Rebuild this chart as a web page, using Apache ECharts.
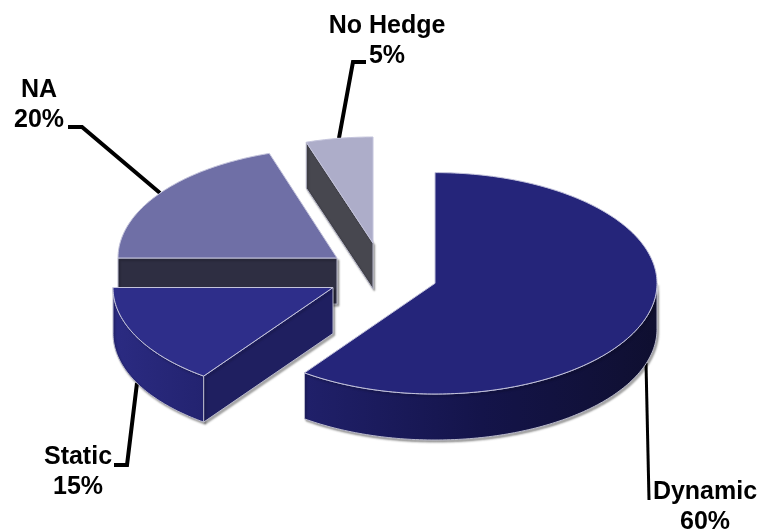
<!DOCTYPE html>
<html>
<head>
<meta charset="utf-8">
<style>html,body{margin:0;padding:0;background:#fff}#chart{width:760px;height:532px}</style>
<script src="https://cdn.jsdelivr.net/npm/echarts@6/dist/echarts.min.js"></script>
</head>
<body>
<div id="chart"></div>
<script>
// Hedging approach shares, listed counter-clockwise from 12 o'clock so that
// slices further back are painted first.
const categories = ['No Hedge', 'NA', 'Static', 'Dynamic'];
const shares = [5, 20, 15, 60];

// Exploded position and ellipse size of each slice.
const centers = [[373, 243], [337, 258], [333, 287.5], [435, 283.3]];
const radiiX = [216, 219, 220, 222];
const radiiY = [106, 110, 109.5, 110.7];
const depth = 46;

const topColors = ['#adadc9', '#6f6fa6', '#2e2e8a', '#25257a'];
const cutColors = ['#47474f', '#2e2e42', '#1f1f60', '#1f1f60'];
const wallStops = [
  ['#47474f', '#47474f'],
  ['#2e2e42', '#2e2e42'],
  ['#2b2b82', '#232370'],
  ['#20206a', '#14144a', '#0f0f30']
];

// Callout placement: text centre and leader line.
const labelCenters = [[387, 41], [39, 105], [78, 472], [705, 507]];
const leaders = [
  [[366, 62], [353, 62], [339, 138]],
  [[68, 127], [82, 127], [160, 193]],
  [[114, 465], [127, 465], [137, 383]],
  [[646, 363], [649, 500]]
];
const leaderWidths = [4, 4, 4, 3];

const total = shares.reduce((a, b) => a + b, 0);
const rad = d => d * Math.PI / 180;

// Clockwise angle from 12 o'clock at which slice i ends.
function endAngle(i) {
  return 360 - shares.slice(0, i).reduce((a, b) => a + b, 0) / total * 360;
}

function rimPoint(i, deg, drop) {
  return [
    centers[i][0] + radiiX[i] * Math.sin(rad(deg)),
    centers[i][1] - radiiY[i] * Math.cos(rad(deg)) + (drop || 0)
  ];
}

function arc(i, from, to, drop) {
  const pts = [];
  const n = Math.max(2, Math.ceil(Math.abs(to - from)));
  for (let k = 0; k <= n; k++) pts.push(rimPoint(i, from + (to - from) * k / n, drop));
  return pts;
}

function hGradient(stops) {
  return {
    type: 'linear', x: 0, y: 0, x2: 1, y2: 0,
    colorStops: stops.map((c, k) => ({ offset: k / (stops.length - 1), color: c }))
  };
}

const edgeStyle = {
  stroke: '#b9b9cc', lineWidth: 1,
  shadowColor: 'rgba(0,0,0,0.35)', shadowBlur: 2, shadowOffsetX: 1.5, shadowOffsetY: 2
};

function renderSlice(params, api) {
  const i = params.dataIndex;
  const value = api.value(0);
  const end = endAngle(i);
  const start = end - value / total * 360;
  const c = centers[i];
  const children = [];

  // Leader and callout sit behind the solid.
  children.push({
    type: 'polyline', silent: true,
    shape: { points: leaders[i] },
    style: { stroke: '#000', lineWidth: leaderWidths[i], fill: null }
  });
  children.push({
    type: 'text', silent: true,
    x: labelCenters[i][0], y: labelCenters[i][1],
    style: {
      text: categories[i] + '\n' + value + '%',
      font: 'bold 25px "Liberation Sans", Arial, sans-serif',
      lineHeight: 30, fill: '#000', align: 'center', verticalAlign: 'middle'
    }
  });

  // Outer wall: only the part of the rim that faces the viewer.
  const wallFrom = Math.max(start, 90);
  const wallTo = Math.min(end, 270);
  if (wallTo > wallFrom) {
    children.push({
      type: 'polygon', silent: true,
      shape: { points: arc(i, wallFrom, wallTo, 0).concat(arc(i, wallTo, wallFrom, depth)) },
      style: Object.assign({ fill: hGradient(wallStops[i]) }, edgeStyle)
    });
  }

  // Cut face along the slice's leading edge, when it turns towards the viewer.
  if (start > 180 && start < 360) {
    const rim = rimPoint(i, start, 0);
    const rimLow = rimPoint(i, start, depth);
    children.push({
      type: 'polygon', silent: true,
      shape: { points: [c, rim, rimLow, [c[0], c[1] + depth]] },
      style: Object.assign({ fill: cutColors[i] }, edgeStyle)
    });
  }

  // Top surface.
  children.push({
    type: 'polygon', silent: true,
    shape: { points: [c].concat(arc(i, start, end, 0)) },
    style: { fill: topColors[i], stroke: '#c4c4dc', lineWidth: 1, lineJoin: 'round' }
  });

  return { type: 'group', children };
}

const chart = echarts.init(document.getElementById('chart'), null, { renderer: 'canvas' });
chart.setOption({
  animation: false,
  backgroundColor: '#ffffff',
  series: [{
    type: 'custom',
    coordinateSystem: 'none',
    silent: true,
    data: shares,
    renderItem: renderSlice
  }]
});
</script>
</body>
</html>
